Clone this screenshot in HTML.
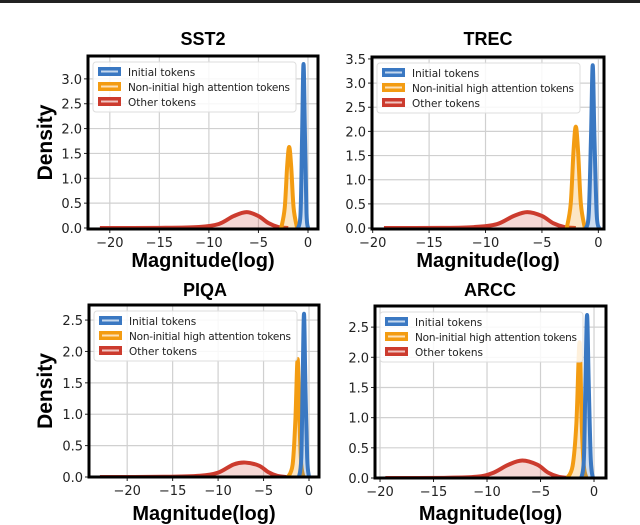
<!DOCTYPE html>
<html><head><meta charset="utf-8"><style>
html,body{margin:0;padding:0;background:#fff;}
svg{display:block;font-family:"DejaVu Sans","Liberation Sans",sans-serif;}
.t{font-family:"Liberation Sans",sans-serif;font-weight:bold;}
</style></head><body>
<svg id="c" width="640" height="525" viewBox="0 0 640 525">
<rect x="0" y="0" width="640" height="3" fill="#222"/>
</svg>
<script>
// ---- data ----
const panelTitles = ["SST2","TREC","PIQA","ARCC"];
const seriesNames = ["Initial tokens","Non-initial high attention tokens","Other tokens"];
const xTicks = [-20,-15,-10,-5,0];
const yTicksA = [0,0.5,1,1.5,2,2.5,3];
const yTicksB = [0,0.5,1,1.5,2,2.5,3,3.5];
const yTicksC = [0,0.5,1,1.5,2,2.5];
// SST2
const sst2InitX = [-1.0,-0.75,-0.6,-0.45,-0.3,-0.15,0.0];
const sst2InitY = [0,0.3,1.8,3.3,1.8,0.3,0];
const sst2NonX = [-2.7,-2.35,-2.1,-1.9,-1.7,-1.45,-1.1];
const sst2NonY = [0,0.4,1.25,1.63,1.25,0.4,0];
const sst2OthX = [-21,-15,-11,-9,-7.5,-6.2,-5,-4,-3,-2];
const sst2OthY = [0,0.003,0.02,0.08,0.24,0.32,0.24,0.1,0.02,0];
// TREC
const trecInitX = [-1.1,-0.85,-0.65,-0.5,-0.35,-0.15,0.05];
const trecInitY = [0,0.3,1.9,3.37,1.9,0.3,0];
const trecNonX = [-2.8,-2.45,-2.2,-2.0,-1.8,-1.55,-1.2];
const trecNonY = [0,0.5,1.6,2.1,1.6,0.5,0];
const trecOthX = [-19,-14,-11,-9,-7.5,-6.3,-5,-4,-3,-2];
const trecOthY = [0,0.003,0.02,0.08,0.25,0.33,0.25,0.1,0.02,0];
// PIQA
const piqaInitX = [-1.1,-0.85,-0.7,-0.55,-0.4,-0.2,0.0];
const piqaInitY = [0,0.3,1.5,2.6,1.5,0.3,0];
const piqaNonX = [-2.3,-1.8,-1.5,-1.25,-1.05,-0.85,-0.6];
const piqaNonY = [0,0.2,0.9,1.88,0.9,0.2,0];
const piqaOthX = [-23,-16,-12,-10,-8.3,-7,-5.5,-4.5,-3.5,-2.5];
const piqaOthY = [0,0.003,0.02,0.07,0.2,0.23,0.18,0.08,0.02,0];
// ARCC
const arccInitX = [-1.2,-0.95,-0.8,-0.65,-0.5,-0.3,-0.1];
const arccInitY = [0,0.3,1.6,2.7,1.6,0.3,0];
const arccNonX = [-2.5,-2.0,-1.65,-1.35,-1.15,-0.95,-0.7];
const arccNonY = [0,0.2,0.9,2.25,0.9,0.2,0];
const arccOthX = [-19.5,-14,-11,-9.5,-8,-6.7,-5.3,-4.3,-3.3,-2.3];
const arccOthY = [0,0.003,0.02,0.08,0.22,0.29,0.22,0.09,0.02,0];

const panelData = [
 [[sst2InitX,sst2InitY],[sst2NonX,sst2NonY],[sst2OthX,sst2OthY]],
 [[trecInitX,trecInitY],[trecNonX,trecNonY],[trecOthX,trecOthY]],
 [[piqaInitX,piqaInitY],[piqaNonX,piqaNonY],[piqaOthX,piqaOthY]],
 [[arccInitX,arccInitY],[arccNonX,arccNonY],[arccOthX,arccOthY]]
];
const panelYTicks = [yTicksA,yTicksB,yTicksC,yTicksC];
const colors = ["#3a78c2","#f39c12","#cc3b2e"];
const fills = ["rgba(58,120,194,0.25)","rgba(243,156,18,0.25)","rgba(204,59,46,0.2)"];

const layout = [
 {l:88,r:318,t:56,b:229,x0:-22.2,x1:1.01,y0:-0.02,y1:3.46,tx:203,ty:45,lx:45,xl:267},
 {l:372,r:604,t:57,b:229,x0:-20.06,x1:0.5,y0:-0.02,y1:3.54,tx:488,ty:45,lx:0,xl:267},
 {l:89,r:319,t:305,b:477,x0:-24.2,x1:1.1,y0:0,y1:2.74,tx:205,ty:296,lx:45,xl:520},
 {l:375,r:606,t:306,b:478,x0:-20.47,x1:1.12,y0:0,y1:2.85,tx:490,ty:296,lx:0,xl:520}
];
const NS="http://www.w3.org/2000/svg";
const svg=document.getElementById('c');
function mk(tag,attrs,parent){const e=document.createElementNS(NS,tag);for(const k in attrs)e.setAttribute(k,attrs[k]);(parent||svg).appendChild(e);return e;}
function smooth(pts){
 let d=`M${pts[0][0]},${pts[0][1]}`;
 for(let i=0;i<pts.length-1;i++){
  const p0=pts[Math.max(i-1,0)],p1=pts[i],p2=pts[i+1],p3=pts[Math.min(i+2,pts.length-1)];
  const c1=[p1[0]+(p2[0]-p0[0])/6,p1[1]+(p2[1]-p0[1])/6];
  const c2=[p2[0]-(p3[0]-p1[0])/6,p2[1]-(p3[1]-p1[1])/6];
  d+=` C${c1[0]},${c1[1]} ${c2[0]},${c2[1]} ${p2[0]},${p2[1]}`;
 }
 return d;
}
layout.forEach((L,pi)=>{
 const g=mk('g',{});
 
 
 const sx=v=>L.l+(v-L.x0)/(L.x1-L.x0)*(L.r-L.l);
 const sy=v=>L.b-(v-L.y0)/(L.y1-L.y0)*(L.b-L.t);
 const clipId='clip'+pi;
 const cp=mk('clipPath',{id:clipId},g);mk('rect',{x:L.l,y:L.t,width:L.r-L.l,height:L.b-L.t},cp);
 xTicks.forEach(v=>{const ln=mk('line',{x1:sx(v),x2:sx(v),y1:L.t,y2:L.b,stroke:'#d0d0d0','stroke-width':1.2},g);
  
  mk('line',{x1:sx(v),x2:sx(v),y1:L.b,y2:L.b+4,stroke:'#222'},g);
  const t=mk('text',{x:sx(v),y:L.b+18,'text-anchor':'middle','font-size':13,fill:'#222'},g);t.textContent=(v<0?'\u2212'+(-v):v);
  });
 panelYTicks[pi].forEach(v=>{const ln=mk('line',{x1:L.l,x2:L.r,y1:sy(v),y2:sy(v),stroke:'#d0d0d0','stroke-width':1.2},g);
  
  mk('line',{x1:L.l-4,x2:L.l,y1:sy(v),y2:sy(v),stroke:'#222'},g);
  const t=mk('text',{x:L.l-6,y:sy(v)+5,'text-anchor':'end','font-size':13,fill:'#222'},g);t.textContent=v.toFixed(1);
  });
 const cg=mk('g',{'clip-path':`url(#${clipId})`},g);
 [2,1,0].forEach(si=>{
  const [xs,ys]=panelData[pi][si];
  const pts=xs.map((x,i)=>[sx(x),sy(ys[i])]);
  const d=smooth(pts);
  const f=mk('path',{d:d+` L${pts[pts.length-1][0]},${sy(0)} L${pts[0][0]},${sy(0)} Z`,fill:fills[si],stroke:'none'},cg);
  
  const p=mk('path',{d:d,fill:'none',stroke:colors[si],'stroke-width':4,'stroke-linejoin':'round'},cg);
  
  
 });
 const box=mk('rect',{x:L.l,y:L.t,width:L.r-L.l,height:L.b-L.t,fill:'none',stroke:'#000','stroke-width':3},g);
 
 const lg=mk('g',{},g);
 
 mk('rect',{x:L.l+5,y:L.t+6,width:203,height:50,fill:'rgba(255,255,255,0.85)',stroke:'#ddd',rx:3},lg);
 seriesNames.forEach((n,si)=>{
  const yy=L.t+16+si*15;
  mk('rect',{x:L.l+10,y:yy-5,width:23,height:9,fill:colors[si]},lg);
  mk('line',{x1:L.l+13,x2:L.l+30,y1:yy-0.5,y2:yy-0.5,stroke:'rgba(255,255,255,0.7)','stroke-width':2},lg);
  const t=mk('text',{x:L.l+40,y:yy+4,'font-size':10.5,fill:'#222',textLength:n.length>20?162:null},lg);
  if(n.length<=20)t.removeAttribute('textLength');
  t.textContent=n;
  
 });
 const tt=mk('text',{x:L.tx,y:L.ty,'text-anchor':'middle','font-size':18,class:'t',fill:'#000'},g);tt.textContent=panelTitles[pi];
 
 const xl=mk('text',{x:(L.l+L.r)/2,y:L.xl,'text-anchor':'middle','font-size':20,class:'t',fill:'#000'},g);xl.textContent='Magnitude(log)';
 
 if(L.lx){const yl=mk('text',{x:0,y:0,'text-anchor':'middle','font-size':21,class:'t',fill:'#000',transform:`translate(${L.lx+7},${(L.t+L.b)/2}) rotate(-90)`},g);yl.textContent='Density';
 }
});
</script>
</body></html>
